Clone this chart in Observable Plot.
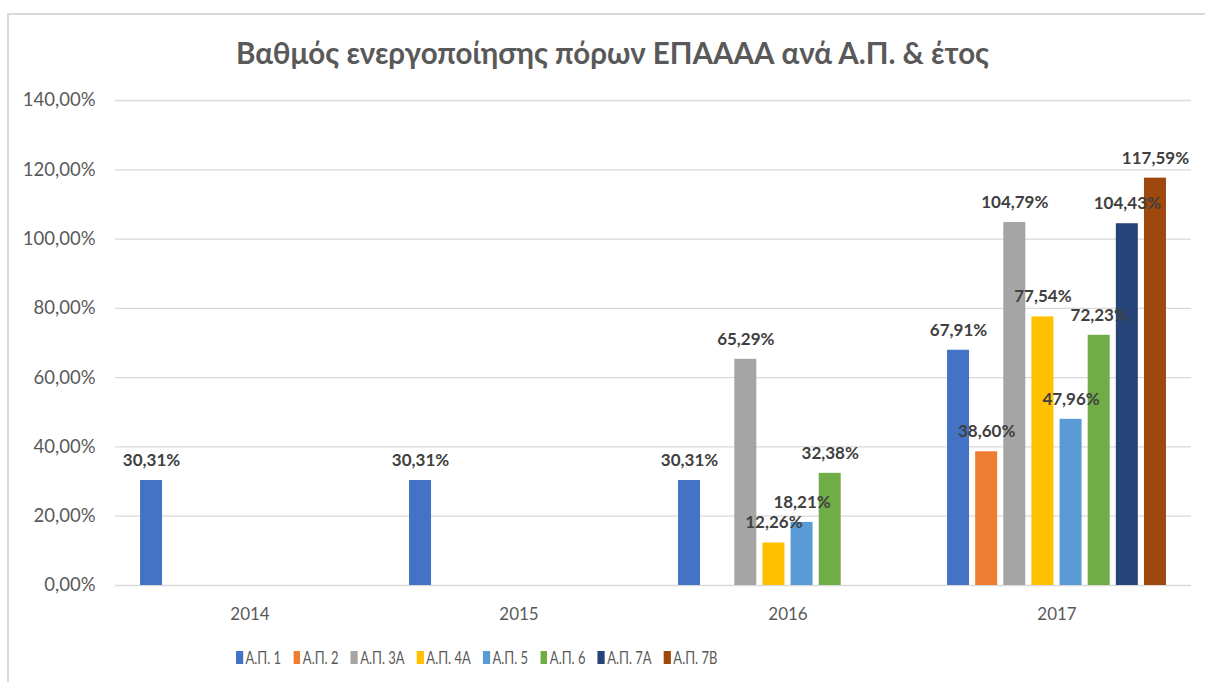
<!DOCTYPE html>
<html>
<head>
<meta charset="utf-8">
<script src="https://cdn.jsdelivr.net/npm/d3@7"></script>
<script src="https://cdn.jsdelivr.net/npm/@observablehq/plot@0.6"></script>
<style>
  html, body { margin: 0; padding: 0; background: #fff; }
  #wrap { position: relative; width: 1205px; height: 682px; overflow: hidden; font-family: Lato, "Open Sans", sans-serif; }
  #frame { position: absolute; left: 7px; top: 13px; width: 1300px; height: 800px; border-left: 2px solid #d9d9d9; border-top: 2px solid #d9d9d9; box-sizing: border-box; }
  #title { position: absolute; left: 0; width: 1225px; top: 35px; text-align: center; font-size: 29.5px; font-weight: bold; color: #595959; }
  #chart { position: absolute; left: 0; top: 80px; }
  #legend { position: absolute; left: 236px; top: 646px; display: flex; align-items: center; font-size: 18px; color: #595959; transform: scaleX(0.72); transform-origin: left center; white-space: nowrap; }
  .item { display: flex; align-items: center; margin-right: 17px; }
  .sw { width: 9.7px; height: 13px; margin-right: 3.5px; }
</style>
</head>
<body>
<div id="wrap">
  <div id="frame"></div>
  <div id="title">Βαθμός ενεργοποίησης πόρων ΕΠΑΑΑΑ ανά Α.Π. &amp; έτος</div>
  <div id="chart"></div>
  <div id="legend"></div>
</div>
<script>
const years = ["2014", "2015", "2016", "2017"];
const series = ["Α.Π. 1", "Α.Π. 2", "Α.Π. 3Α", "Α.Π. 4Α", "Α.Π. 5", "Α.Π. 6", "Α.Π. 7Α", "Α.Π. 7Β"];
const colors = ["#4472C4", "#ED7D31", "#A5A5A5", "#FFC000", "#5B9BD5", "#70AD47", "#264478", "#9E480E"];
// values in percent, null = no bar
const v2014 = [30.31, null, null, null, null, null, null, null];
const v2015 = [30.31, null, null, null, null, null, null, null];
const v2016 = [30.31, null, 65.29, 12.26, 18.21, 32.38, null, null];
const v2017 = [67.91, 38.60, 104.79, 77.54, 47.96, 72.23, 104.43, 117.59];
const yTicks = [0, 20, 40, 60, 80, 100, 120, 140];

const valuesByYear = [v2014, v2015, v2016, v2017];
const data = [];
years.forEach((yr, i) => valuesByYear[i].forEach((v, j) => {
  if (v != null) data.push({year: yr, series: series[j], value: v});
}));
const fmt = d => d.toFixed(2).replace(".", ",") + "%";

const chart = Plot.plot({
  width: 1205,
  height: 550,
  marginTop: 20,
  marginBottom: 45,
  marginLeft: 115,
  marginRight: 14,
  style: {fontFamily: "Lato, 'Open Sans', sans-serif", background: "transparent", overflow: "visible"},
  fx: {domain: years, paddingInner: 0, paddingOuter: 0, label: null, axis: "bottom", tickSize: 0, tickPadding: 22},
  x: {domain: series, paddingInner: 0.218, paddingOuter: 0.89, axis: null, round: false},
  y: {domain: [0, 140], ticks: yTicks, tickFormat: fmt, label: null, tickSize: 0, tickPadding: 20},
  color: {domain: series, range: colors},
  marks: [
    Plot.ruleY(yTicks, {stroke: "#d9d9d9", strokeWidth: 1.3}),
    Plot.barY(data, {fx: "year", x: "series", y: "value", fill: "series"}),
    Plot.text(data, {fx: "year", x: "series", y: "value", text: d => fmt(d.value), dy: -20, fontWeight: "bold", fontSize: 17, fill: "#404040"})
  ]
});
chart.querySelectorAll("[aria-label='y-axis tick label'], [aria-label='fx-axis tick label']").forEach(g => {
  g.setAttribute("fill", "#595959");
  g.setAttribute("font-size", "18.5");
  g.querySelectorAll("text").forEach(t => t.setAttribute("fill", "#595959"));
});
chart.querySelectorAll("[aria-label='fx-axis tick label']").forEach(g => g.setAttribute("font-size", "17"));
document.getElementById("chart").appendChild(chart);

const legend = document.getElementById("legend");
series.forEach((s, i) => {
  const it = document.createElement("div");
  it.className = "item";
  const sw = document.createElement("div");
  sw.className = "sw";
  sw.style.background = colors[i];
  const tx = document.createElement("span");
  tx.textContent = s;
  it.appendChild(sw);
  it.appendChild(tx);
  legend.appendChild(it);
});
</script>
</body>
</html>
